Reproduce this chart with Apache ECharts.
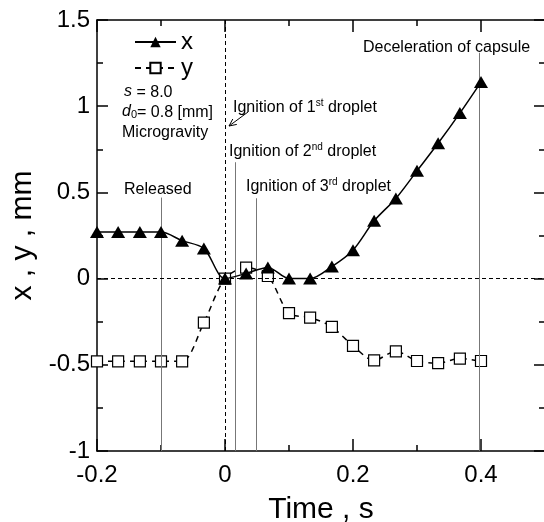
<!DOCTYPE html>
<html>
<head>
<meta charset="utf-8">
<script src="https://cdn.jsdelivr.net/npm/echarts@6/dist/echarts.min.js"></script>
<style>
  html, body { margin: 0; padding: 0; background: #fff; }
  #chart { width: 544px; height: 522px; }
</style>
</head>
<body>
<div id="chart"></div>
<script>
// time (s)
var timeValues = [-0.2, -0.167, -0.133, -0.1, -0.067, -0.033, 0, 0.033, 0.067, 0.1,
    0.133, 0.167, 0.2, 0.233, 0.267, 0.3, 0.333, 0.367, 0.4];

// x displacement (mm)
var xValues = [0.27, 0.27, 0.27, 0.27, 0.22, 0.175, 0, 0.03, 0.065, 0,
    0, 0.07, 0.165, 0.335, 0.465, 0.625, 0.785, 0.96, 1.14];

// y displacement (mm)
var yValues = [-0.48, -0.48, -0.48, -0.48, -0.48, -0.255, 0, 0.064, 0.015, -0.2,
    -0.226, -0.28, -0.39, -0.474, -0.422, -0.478, -0.49, -0.464, -0.478];

// event markers: time and where the thin line starts
var eventTimes = [-0.1, 0.0164, 0.049, 0.3975];
var eventTops = [0.47, 0.675, 0.466, 1.31];

var fontName = '"Liberation Sans", Arial, sans-serif';

var pairs = function (xs, ys) {
    var out = [];
    for (var i = 0; i < xs.length; i++) {
        out.push([xs[i], ys[i]]);
    }
    return out;
};

var fmtX = function (v) {
    var r = Math.round(v * 10) / 10;
    if (r === 0) return '0';
    if (r > 0.45) return '';
    return r.toFixed(1);
};

var fmtY = function (v) {
    var r = Math.round(v * 100) / 100;
    if (r === 0) return '0';
    return String(r);
};

var myChart = echarts.init(document.getElementById('chart'));

var grayLine = { color: '#777', width: 1, type: 'solid' };
var dashLine = { color: '#000', width: 1, type: [4, 3] };
var markData = [];
for (var j = 0; j < eventTimes.length; j++) {
    markData.push([
        { coord: [eventTimes[j], eventTops[j]], lineStyle: grayLine },
        { coord: [eventTimes[j], -1] }
    ]);
}
markData.push([{ coord: [-0.2, 0], lineStyle: dashLine }, { coord: [0.5, 0] }]);
markData.push([{ coord: [0, -1], lineStyle: dashLine }, { coord: [0, 1.5] }]);

var tickStyle = { color: '#000', width: 1.5 };

// tick-only x axis
var tickXAxis = function (grid, pos, interval, tickLen, showLine) {
    return {
        type: 'value',
        gridIndex: grid,
        position: pos,
        min: -0.2,
        max: 0.5,
        interval: interval,
        axisLine: { show: showLine, onZero: false, lineStyle: { color: '#000', width: 1.5 } },
        axisTick: { show: true, inside: true, length: tickLen, lineStyle: tickStyle },
        axisLabel: { show: false },
        splitLine: { show: false }
    };
};

// tick-only y axis
var tickYAxis = function (pos) {
    return {
        type: 'value',
        gridIndex: 0,
        position: pos,
        min: -1,
        max: 1.5,
        interval: 0.5,
        axisLine: { show: true, onZero: false, lineStyle: { color: '#000', width: 1.5 } },
        axisTick: { show: true, inside: true, length: 11, lineStyle: tickStyle },
        minorTick: { show: true, splitNumber: 2, length: 6, lineStyle: tickStyle },
        axisLabel: { show: false },
        splitLine: { show: false },
        minorSplitLine: { show: false }
    };
};

var xLabelAxis = tickXAxis(1, 'bottom', 0.2, 12, false);
xLabelAxis.axisLabel = { show: true, margin: 12, color: '#000', fontSize: 24, fontFamily: fontName, formatter: fmtX };
xLabelAxis.name = 'Time , s';
xLabelAxis.nameLocation = 'middle';
xLabelAxis.nameGap = 44;
xLabelAxis.nameTextStyle = { color: '#000', fontSize: 30, fontFamily: fontName };

var yLabelAxis = {
    type: 'value',
    gridIndex: 1,
    position: 'left',
    min: -1,
    max: 1.5,
    interval: 0.5,
    axisLine: { show: false, onZero: false },
    axisTick: { show: false },
    axisLabel: { show: true, margin: 7, color: '#000', fontSize: 24, fontFamily: fontName, formatter: fmtY },
    splitLine: { show: false },
    name: 'x , y , mm',
    nameLocation: 'middle',
    nameGap: 53,
    nameTextStyle: { color: '#000', fontSize: 30, fontFamily: fontName }
};

var supText = function (x, y, str) {
    return {
        type: 'text',
        x: x,
        y: y,
        style: {
            text: str,
            verticalAlign: 'middle',
            fill: '#000',
            font: '16px ' + fontName,
            rich: {
                n: { fontSize: 16, fontFamily: fontName, lineHeight: 17, verticalAlign: 'bottom' },
                s: { fontSize: 10, fontFamily: fontName, lineHeight: 17, verticalAlign: 'top' },
                i: { fontSize: 16, fontFamily: fontName, fontStyle: 'italic', lineHeight: 17 },
                b: { fontSize: 11, fontFamily: fontName, lineHeight: 17, verticalAlign: 'bottom', padding: [6, 0, 0, 0] }
            }
        }
    };
};

// two identical grids: grid 0 holds the data and short ticks, grid 1 the labels and long x ticks
var gridBox = { left: 97, top: 20, width: 448, height: 431, outerBoundsMode: 'none', containLabel: false };

var option = {
    animation: false,
    backgroundColor: '#fff',
    grid: [gridBox, echarts.util.clone(gridBox)],
    legend: {
        orient: 'vertical',
        left: 129,
        top: 25,
        itemWidth: 41,
        itemHeight: 13,
        itemGap: 2,
        textStyle: { color: '#000', fontSize: 24, fontFamily: fontName, lineHeight: 24 },
        data: ['x', 'y']
    },
    xAxis: [
        tickXAxis(0, 'bottom', 0.1, 6, true),
        tickXAxis(0, 'top', 0.1, 6, true),
        xLabelAxis,
        tickXAxis(1, 'top', 0.2, 12, false)
    ],
    yAxis: [
        tickYAxis('left'),
        tickYAxis('right'),
        yLabelAxis
    ],
    graphic: [
        supText(233, 107, '{n|Ignition of 1}{s|st}{n| droplet}'),
        supText(229, 151, '{n|Ignition of 2}{s|nd}{n| droplet}'),
        supText(246, 186, '{n|Ignition of 3}{s|rd}{n| droplet}'),
        supText(124, 189, '{n|Released}'),
        supText(363, 47, '{n|Deceleration of capsule}'),
        supText(124, 92, '{i|s}{n| = 8.0}'),
        supText(122, 112, '{i|d}{b|0}{n|= 0.8 [mm]}'),
        supText(122, 132, '{n|Microgravity}'),
        {
            type: 'line',
            shape: { x1: 248, y1: 112, x2: 229, y2: 126 },
            style: { stroke: '#000', lineWidth: 1 }
        },
        {
            type: 'polyline',
            shape: { points: [[236.8, 124.4], [229, 126], [232.8, 119]] },
            style: { stroke: '#000', lineWidth: 1, fill: null }
        }
    ],
    series: [
        {
            name: 'x',
            type: 'line',
            xAxisIndex: 0,
            yAxisIndex: 0,
            data: pairs(timeValues, xValues),
            smooth: 0.3,
            symbol: 'triangle',
            symbolSize: [14, 12],
            itemStyle: { color: '#000' },
            lineStyle: { color: '#000', width: 1.5 },
            z: 5,
            markLine: {
                silent: true,
                symbol: 'none',
                label: { show: false },
                data: markData
            }
        },
        {
            name: 'y',
            type: 'line',
            xAxisIndex: 0,
            yAxisIndex: 0,
            data: pairs(timeValues, yValues),
            smooth: 0.3,
            symbol: 'rect',
            symbolSize: 11,
            itemStyle: { color: '#fff', borderColor: '#000', borderWidth: 1.2 },
            lineStyle: { color: '#000', width: 1.5, type: [6, 5] },
            z: 4
        }
    ]
};

myChart.setOption(option);
</script>
</body>
</html>
